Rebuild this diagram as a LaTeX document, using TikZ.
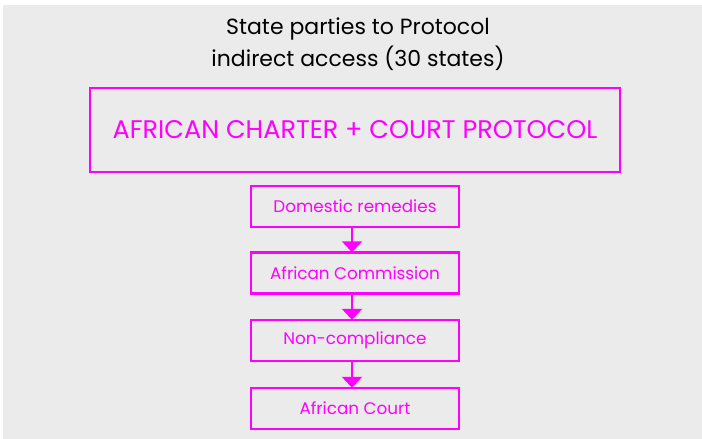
\documentclass[tikz,border=0pt]{standalone}
\usepackage{fontspec}
\setmainfont{Poppins}
\usetikzlibrary{arrows.meta}
\definecolor{bggray}{HTML}{EBEBEB}
\definecolor{mag}{HTML}{FF00FF}
\tikzset{
  box/.style={draw=mag, line width=2.4pt, text=mag, inner sep=0pt, align=center},
  smallbox/.style={box, minimum width=208pt, minimum height=41pt, font=\fontsize{16.8}{20}\selectfont},
  flow/.style={draw=mag, line width=2.4pt, -{Triangle[width=20pt,length=11pt]}, shorten >=-1pt}
}
\begin{document}
\begin{tikzpicture}[x=1pt,y=-1pt]
\useasboundingbox (0,0) rectangle (702,439);
\fill[white] (0,0) rectangle (702,439);
\fill[bggray] (3,5) rectangle (702,439);
\node[align=center, font=\fontsize{22}{32}\selectfont, text=black] (title) at (358,44) {State parties to Protocol\\indirect access (30 states)};
\node[box, minimum width=530pt, minimum height=84pt, font=\fontsize{25.5}{30}\selectfont] (main) at (355,130) {AFRICAN CHARTER + COURT PROTOCOL};
\node[smallbox] (dom) at (355,206.5) {Domestic remedies};
\node[smallbox] (com) at (355,273) {African Commission};
\node[smallbox] (non) at (355,340.5) {Non-compliance};
\node[smallbox] (court) at (355,408.5) {African Court};
\draw[flow] (dom.south -| 352,0) -- (com.north -| 352,0);
\draw[flow] (com.south -| 352,0) -- (non.north -| 352,0);
\draw[flow] (non.south -| 352,0) -- (court.north -| 352,0);
\end{tikzpicture}
\end{document}
